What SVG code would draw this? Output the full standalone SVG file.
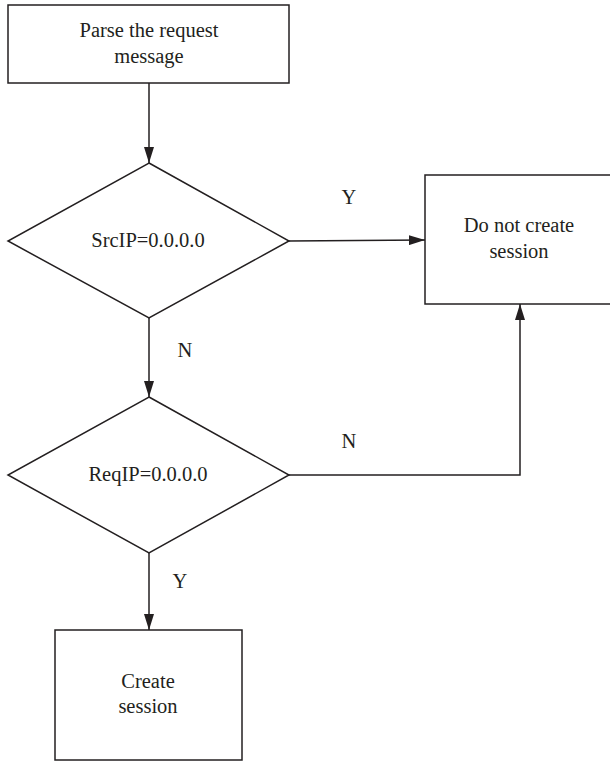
<svg xmlns="http://www.w3.org/2000/svg" width="610" height="761" viewBox="0 0 610 761">
<defs>
<marker id="arr" markerWidth="16" markerHeight="10" refX="16" refY="5" orient="auto" markerUnits="userSpaceOnUse">
<path d="M0,0 L16,5 L0,10 Z" fill="#231f20"/>
</marker>
<style>
.shape{fill:#fff;stroke:#231f20;stroke-width:1.5}
.conn{fill:none;stroke:#231f20;stroke-width:1.5}
text{font-family:"Liberation Serif","Times New Roman",serif;font-size:20.5px;fill:#231f20;text-anchor:middle}
</style>
</defs>
<rect width="610" height="761" fill="#fff"/>
<g id="connectors">
<line class="conn" x1="149" y1="83" x2="149" y2="163" marker-end="url(#arr)"/>
<line class="conn" x1="289" y1="241" x2="425" y2="240" marker-end="url(#arr)"/>
<line class="conn" x1="149" y1="318" x2="149" y2="397" marker-end="url(#arr)"/>
<polyline class="conn" points="289,475 520,475 520,304" marker-end="url(#arr)"/>
<line class="conn" x1="149" y1="553" x2="149" y2="630" marker-end="url(#arr)"/>
<text x="349" y="204">Y</text>
<text x="185" y="357">N</text>
<text x="349" y="448">N</text>
<text x="180" y="588">Y</text>
</g>
<g id="parse">
<rect class="shape" x="8" y="5" width="281" height="78"/>
<text x="149" y="37">Parse the request</text>
<text x="149" y="63">message</text>
</g>
<g id="srcip">
<polygon class="shape" points="149,163 289,241 149,318 8,241"/>
<text x="148" y="247">SrcIP=0.0.0.0</text>
</g>
<g id="nocreate">
<rect class="shape" x="425" y="175" width="190" height="129"/>
<text x="519" y="232">Do not create</text>
<text x="519" y="258">session</text>
</g>
<g id="reqip">
<polygon class="shape" points="149,397 289,475 149,553 8,475"/>
<text x="148" y="481">ReqIP=0.0.0.0</text>
</g>
<g id="create">
<rect class="shape" x="55" y="630" width="187" height="130"/>
<text x="148" y="688">Create</text>
<text x="148" y="713">session</text>
</g>
</svg>
